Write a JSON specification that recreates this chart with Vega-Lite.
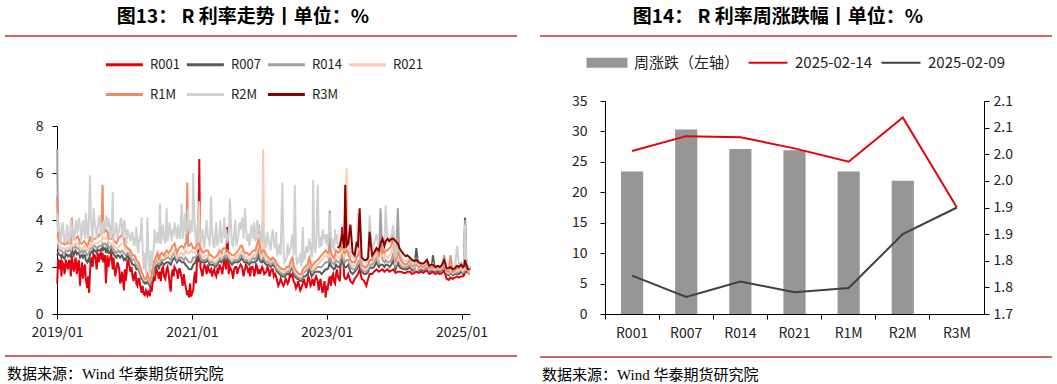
{
"$schema": "https://vega.github.io/schema/vega-lite/v6.json",
"background": "white",
"padding": {"top": 8, "left": 5, "right": 5, "bottom": 0},
"config": {
  "view": {"stroke": null},
  "font": "Noto Sans CJK SC",
  "axis": {"domainColor": "#000", "tickColor": "#000", "labelColor": "#222", "labelFontSize": 14, "grid": false, "tickSize": 5, "domainWidth": 1, "labelFont": "Noto Sans CJK SC"},
  "legend": {"layout": {"top": {"anchor": "middle"}}, "labelFont": "Noto Sans CJK SC", "labelColor": "#222"},
  "title": {"color": "#000"}
},
"hconcat": [
 {
  "spacing": 11,
  "resolve": {"scale": {"color": "independent"}, "legend": {"color": "independent"}},
  "vconcat": [
   {
    "width": 512, "height": 2,
    "view": {"fill": "#cc6666", "stroke": null},
    "title": {"text": "图13：  R 利率走势丨单位：%", "fontSize": 19, "fontWeight": "bold", "anchor": "middle", "dx": -18, "offset": 3},
    "data": {"values": [{"t": ""}]},
    "mark": "text",
    "encoding": {"text": {"field": "t"}}
   },
   {
    "spacing": 0,
    "resolve": {"scale": {"color": "independent"}, "legend": {"color": "independent"}},
    "hconcat": [
     {
      "width": 1, "height": 1,
      "data": {"values": [{"t": ""}]},
      "mark": "text",
      "encoding": {"text": {"field": "t"}}
     },
     {
    "width": 413, "height": 188,
    "data": {"values": [
{"d":"2019-01-02","R001":1.30,"R007":2.50,"R014":7.00,"R021":3.40,"R1M":5.00,"R2M":4.30},
{"d":"2019-01-07","R001":2.35,"R007":2.60,"R014":2.80,"R021":3.00,"R1M":3.30,"R2M":3.50},
{"d":"2019-01-16","R001":2.20,"R007":2.50,"R014":2.70,"R021":2.90,"R1M":3.10,"R2M":3.40},
{"d":"2019-01-25","R001":1.60,"R007":2.40,"R014":2.70,"R021":2.80,"R1M":3.00,"R2M":3.30},
{"d":"2019-02-05","R001":2.10,"R007":2.40,"R014":2.60,"R021":2.80,"R1M":3.00,"R2M":3.60},
{"d":"2019-02-18","R001":2.30,"R007":2.55,"R014":2.70,"R021":2.80,"R1M":3.00,"R2M":3.20},
{"d":"2019-03-01","R001":1.90,"R007":2.45,"R014":2.65,"R021":2.80,"R1M":3.10,"R2M":3.50},
{"d":"2019-03-12","R001":2.20,"R007":2.50,"R014":2.75,"R021":2.85,"R1M":3.00,"R2M":3.20},
{"d":"2019-03-22","R001":2.50,"R007":2.80,"R014":3.00,"R021":3.20,"R1M":4.10,"R2M":3.70},
{"d":"2019-04-02","R001":1.80,"R007":2.50,"R014":2.80,"R021":2.90,"R1M":3.20,"R2M":3.60},
{"d":"2019-04-12","R001":2.40,"R007":2.70,"R014":2.90,"R021":3.00,"R1M":3.20,"R2M":4.00},
{"d":"2019-04-24","R001":2.10,"R007":2.60,"R014":2.80,"R021":3.00,"R1M":3.30,"R2M":3.60},
{"d":"2019-05-06","R001":1.20,"R007":2.40,"R014":2.60,"R021":2.80,"R1M":3.00,"R2M":3.80},
{"d":"2019-05-16","R001":2.20,"R007":2.50,"R014":2.70,"R021":2.80,"R1M":3.00,"R2M":3.40},
{"d":"2019-05-28","R001":2.00,"R007":2.50,"R014":2.70,"R021":2.90,"R1M":3.10,"R2M":3.60},
{"d":"2019-06-06","R001":1.50,"R007":2.30,"R014":2.60,"R021":2.80,"R1M":3.00,"R2M":4.30},
{"d":"2019-06-14","R001":1.10,"R007":2.20,"R014":2.50,"R021":2.70,"R1M":2.90,"R2M":3.50},
{"d":"2019-06-24","R001":0.90,"R007":2.20,"R014":2.60,"R021":2.80,"R1M":3.10,"R2M":4.40},
{"d":"2019-06-29","R001":1.80,"R007":2.60,"R014":2.80,"R021":3.00,"R1M":3.30,"R2M":5.90},
{"d":"2019-07-08","R001":2.40,"R007":2.65,"R014":2.80,"R021":2.90,"R1M":3.10,"R2M":3.60},
{"d":"2019-07-18","R001":2.55,"R007":2.75,"R014":2.90,"R021":3.00,"R1M":3.20,"R2M":4.50},
{"d":"2019-07-30","R001":2.30,"R007":2.65,"R014":2.85,"R021":3.00,"R1M":3.20,"R2M":3.60},
{"d":"2019-08-09","R001":2.60,"R007":2.75,"R014":2.85,"R021":3.00,"R1M":3.30,"R2M":3.70},
{"d":"2019-08-20","R001":2.50,"R007":2.70,"R014":2.90,"R021":3.10,"R1M":3.40,"R2M":4.20},
{"d":"2019-08-30","R001":2.30,"R007":2.70,"R014":2.90,"R021":3.10,"R1M":3.50,"R2M":3.90},
{"d":"2019-09-05","R001":2.60,"R007":2.85,"R014":3.00,"R021":3.30,"R1M":5.50,"R2M":3.80},
{"d":"2019-09-12","R001":2.40,"R007":2.80,"R014":3.00,"R021":3.20,"R1M":3.50,"R2M":4.00},
{"d":"2019-09-23","R001":1.30,"R007":2.60,"R014":2.90,"R021":3.20,"R1M":3.60,"R2M":4.20},
{"d":"2019-10-01","R001":2.50,"R007":2.80,"R014":3.00,"R021":3.30,"R1M":3.50,"R2M":3.70},
{"d":"2019-10-12","R001":2.30,"R007":2.60,"R014":2.80,"R021":3.00,"R1M":3.20,"R2M":3.80},
{"d":"2019-10-22","R001":2.60,"R007":2.75,"R014":2.90,"R021":3.00,"R1M":3.20,"R2M":3.60},
{"d":"2019-10-30","R001":1.90,"R007":2.60,"R014":2.80,"R021":3.00,"R1M":3.30,"R2M":5.20},
{"d":"2019-11-08","R001":2.00,"R007":2.50,"R014":2.70,"R021":2.90,"R1M":3.10,"R2M":3.40},
{"d":"2019-11-19","R001":1.90,"R007":2.40,"R014":2.60,"R021":2.80,"R1M":3.00,"R2M":3.90},
{"d":"2019-11-29","R001":2.10,"R007":2.50,"R014":2.70,"R021":2.85,"R1M":3.20,"R2M":3.50},
{"d":"2019-12-09","R001":1.30,"R007":2.40,"R014":2.60,"R021":2.90,"R1M":3.30,"R2M":3.90},
{"d":"2019-12-19","R001":1.80,"R007":2.50,"R014":2.70,"R021":3.00,"R1M":3.40,"R2M":3.70},
{"d":"2019-12-30","R001":1.00,"R007":2.30,"R014":2.60,"R021":3.00,"R1M":3.20,"R2M":4.00},
{"d":"2020-01-08","R001":1.40,"R007":2.30,"R014":2.50,"R021":2.70,"R1M":2.90,"R2M":3.30},
{"d":"2020-01-17","R001":2.20,"R007":2.50,"R014":2.60,"R021":2.70,"R1M":2.80,"R2M":3.60},
{"d":"2020-02-03","R001":1.80,"R007":2.30,"R014":2.50,"R021":2.60,"R1M":2.70,"R2M":3.10},
{"d":"2020-02-14","R001":1.60,"R007":2.10,"R014":2.30,"R021":2.40,"R1M":2.50,"R2M":3.50},
{"d":"2020-02-25","R001":1.70,"R007":2.10,"R014":2.30,"R021":2.40,"R1M":2.50,"R2M":2.90},
{"d":"2020-03-06","R001":1.30,"R007":1.90,"R014":2.10,"R021":2.20,"R1M":2.30,"R2M":3.70},
{"d":"2020-03-17","R001":1.50,"R007":1.90,"R014":2.00,"R021":2.10,"R1M":2.20,"R2M":2.60},
{"d":"2020-03-27","R001":1.20,"R007":1.70,"R014":1.80,"R021":1.90,"R1M":2.00,"R2M":3.10},
{"d":"2020-04-04","R001":0.90,"R007":1.50,"R014":1.60,"R021":1.70,"R1M":1.80,"R2M":4.10},
{"d":"2020-04-15","R001":0.85,"R007":1.35,"R014":1.45,"R021":1.50,"R1M":1.55,"R2M":1.90},
{"d":"2020-04-27","R001":1.00,"R007":1.30,"R014":1.40,"R021":1.45,"R1M":1.50,"R2M":1.70},
{"d":"2020-05-05","R001":0.80,"R007":1.40,"R014":1.50,"R021":1.60,"R1M":1.70,"R2M":4.10},
{"d":"2020-05-18","R001":0.75,"R007":1.20,"R014":1.30,"R021":1.40,"R1M":1.45,"R2M":1.60},
{"d":"2020-05-28","R001":0.95,"R007":1.40,"R014":1.50,"R021":1.60,"R1M":1.70,"R2M":2.00},
{"d":"2020-06-08","R001":1.50,"R007":1.80,"R014":2.00,"R021":2.10,"R1M":2.20,"R2M":2.80},
{"d":"2020-06-18","R001":1.70,"R007":2.00,"R014":2.20,"R021":2.30,"R1M":2.40,"R2M":3.00},
{"d":"2020-06-29","R001":1.80,"R007":2.10,"R014":2.30,"R021":2.40,"R1M":2.60,"R2M":3.50},
{"d":"2020-07-06","R001":1.50,"R007":1.90,"R014":2.10,"R021":2.20,"R1M":2.30,"R2M":3.00},
{"d":"2020-07-12","R001":1.80,"R007":2.10,"R014":2.30,"R021":2.40,"R1M":2.50,"R2M":4.70},
{"d":"2020-07-22","R001":1.90,"R007":2.20,"R014":2.30,"R021":2.40,"R1M":2.60,"R2M":3.30},
{"d":"2020-08-03","R001":1.60,"R007":2.10,"R014":2.30,"R021":2.40,"R1M":2.50,"R2M":3.20},
{"d":"2020-08-17","R001":1.90,"R007":2.20,"R014":2.40,"R021":2.50,"R1M":2.70,"R2M":4.50},
{"d":"2020-08-28","R001":1.70,"R007":2.20,"R014":2.40,"R021":2.50,"R1M":2.60,"R2M":3.40},
{"d":"2020-09-08","R001":0.95,"R007":2.10,"R014":2.30,"R021":2.50,"R1M":2.70,"R2M":3.50},
{"d":"2020-09-18","R001":1.90,"R007":2.30,"R014":2.50,"R021":2.60,"R1M":2.90,"R2M":3.60},
{"d":"2020-09-29","R001":2.00,"R007":2.40,"R014":2.60,"R021":2.70,"R1M":3.00,"R2M":3.90},
{"d":"2020-10-12","R001":1.80,"R007":2.20,"R014":2.30,"R021":2.40,"R1M":2.60,"R2M":3.20},
{"d":"2020-10-23","R001":1.90,"R007":2.30,"R014":2.40,"R021":2.50,"R1M":2.80,"R2M":3.40},
{"d":"2020-11-07","R001":1.50,"R007":2.20,"R014":2.40,"R021":2.60,"R1M":2.90,"R2M":4.70},
{"d":"2020-11-18","R001":1.70,"R007":2.20,"R014":2.30,"R021":2.50,"R1M":2.80,"R2M":3.50},
{"d":"2020-11-27","R001":1.20,"R007":2.10,"R014":2.40,"R021":2.70,"R1M":3.00,"R2M":3.80},
{"d":"2020-12-07","R001":0.80,"R007":2.00,"R014":2.30,"R021":2.60,"R1M":5.60,"R2M":3.90},
{"d":"2020-12-17","R001":0.70,"R007":1.90,"R014":2.20,"R021":2.60,"R1M":2.90,"R2M":3.60},
{"d":"2020-12-28","R001":0.75,"R007":1.90,"R014":2.20,"R021":2.70,"R1M":3.00,"R2M":4.00},
{"d":"2021-01-08","R001":1.00,"R007":2.10,"R014":2.40,"R021":2.60,"R1M":2.80,"R2M":6.00},
{"d":"2021-01-19","R001":1.80,"R007":2.20,"R014":2.40,"R021":2.60,"R1M":2.80,"R2M":3.40},
{"d":"2021-01-29","R001":2.40,"R007":2.40,"R014":2.50,"R021":2.80,"R1M":3.00,"R2M":3.60},
{"d":"2021-02-10","R001":6.60,"R007":2.50,"R014":2.60,"R021":4.80,"R1M":3.00,"R2M":3.40},
{"d":"2021-02-22","R001":1.80,"R007":2.20,"R014":2.30,"R021":2.50,"R1M":2.70,"R2M":3.30},
{"d":"2021-03-04","R001":1.90,"R007":2.20,"R014":2.30,"R021":2.40,"R1M":2.60,"R2M":3.10},
{"d":"2021-03-16","R001":2.00,"R007":2.20,"R014":2.30,"R021":2.50,"R1M":2.70,"R2M":3.50},
{"d":"2021-03-29","R001":2.10,"R007":2.30,"R014":2.40,"R021":2.50,"R1M":2.70,"R2M":3.20},
{"d":"2021-04-08","R001":1.80,"R007":2.10,"R014":2.20,"R021":2.30,"R1M":2.50,"R2M":2.90},
{"d":"2021-04-15","R001":1.90,"R007":2.10,"R014":2.20,"R021":2.30,"R1M":2.50,"R2M":5.00},
{"d":"2021-04-26","R001":1.80,"R007":2.10,"R014":2.20,"R021":2.30,"R1M":2.40,"R2M":3.00},
{"d":"2021-05-07","R001":1.70,"R007":2.00,"R014":2.10,"R021":2.20,"R1M":2.40,"R2M":3.30},
{"d":"2021-05-19","R001":1.90,"R007":2.10,"R014":2.20,"R021":2.30,"R1M":2.50,"R2M":2.90},
{"d":"2021-05-31","R001":2.10,"R007":2.30,"R014":2.40,"R021":2.50,"R1M":2.70,"R2M":3.50},
{"d":"2021-06-10","R001":1.90,"R007":2.20,"R014":2.30,"R021":2.40,"R1M":2.60,"R2M":3.00},
{"d":"2021-06-21","R001":2.10,"R007":2.30,"R014":2.40,"R021":2.60,"R1M":2.80,"R2M":3.60},
{"d":"2021-06-30","R001":2.20,"R007":2.40,"R014":2.50,"R021":2.60,"R1M":2.80,"R2M":3.20},
{"d":"2021-07-12","R001":3.70,"R007":2.40,"R014":2.50,"R021":2.60,"R1M":2.70,"R2M":3.10},
{"d":"2021-07-26","R001":2.00,"R007":2.20,"R014":2.30,"R021":2.40,"R1M":2.60,"R2M":4.90},
{"d":"2021-08-06","R001":1.80,"R007":2.10,"R014":2.20,"R021":2.30,"R1M":2.50,"R2M":3.00},
{"d":"2021-08-18","R001":1.90,"R007":2.20,"R014":2.30,"R021":2.40,"R1M":2.50,"R2M":3.40},
{"d":"2021-08-30","R001":2.00,"R007":2.20,"R014":2.30,"R021":2.40,"R1M":2.60,"R2M":2.90},
{"d":"2021-09-09","R001":1.90,"R007":2.20,"R014":2.30,"R021":2.50,"R1M":2.70,"R2M":3.30},
{"d":"2021-09-22","R001":2.10,"R007":2.30,"R014":2.50,"R021":2.60,"R1M":2.90,"R2M":3.60},
{"d":"2021-09-30","R001":2.00,"R007":2.40,"R014":2.50,"R021":2.70,"R1M":2.90,"R2M":4.10},
{"d":"2021-10-15","R001":1.90,"R007":2.20,"R014":2.30,"R021":2.40,"R1M":2.60,"R2M":4.50},
{"d":"2021-10-27","R001":2.00,"R007":2.20,"R014":2.30,"R021":2.40,"R1M":2.60,"R2M":3.10},
{"d":"2021-11-08","R001":1.90,"R007":2.10,"R014":2.20,"R021":2.30,"R1M":2.50,"R2M":2.90},
{"d":"2021-11-19","R001":2.00,"R007":2.20,"R014":2.30,"R021":2.40,"R1M":2.60,"R2M":3.80},
{"d":"2021-11-30","R001":1.90,"R007":2.20,"R014":2.40,"R021":2.50,"R1M":2.70,"R2M":3.20},
{"d":"2021-12-10","R001":1.80,"R007":2.20,"R014":2.30,"R021":2.50,"R1M":2.70,"R2M":3.10},
{"d":"2021-12-21","R001":2.00,"R007":2.30,"R014":2.50,"R021":2.80,"R1M":3.00,"R2M":4.00},
{"d":"2021-12-31","R001":1.90,"R007":2.60,"R014":3.80,"R021":3.40,"R1M":3.20,"R2M":3.60},
{"d":"2022-01-12","R001":1.90,"R007":2.20,"R014":2.30,"R021":2.40,"R1M":2.60,"R2M":3.00},
{"d":"2022-01-22","R001":1.90,"R007":2.30,"R014":2.50,"R021":7.00,"R1M":2.70,"R2M":3.20},
{"d":"2022-02-08","R001":1.80,"R007":2.10,"R014":2.20,"R021":2.30,"R1M":2.50,"R2M":2.80},
{"d":"2022-02-20","R001":1.90,"R007":2.10,"R014":2.20,"R021":2.30,"R1M":2.40,"R2M":3.20},
{"d":"2022-03-04","R001":1.80,"R007":2.00,"R014":2.10,"R021":2.20,"R1M":2.30,"R2M":2.70},
{"d":"2022-03-15","R001":1.90,"R007":2.10,"R014":2.20,"R021":2.30,"R1M":2.40,"R2M":3.60},
{"d":"2022-03-28","R001":1.70,"R007":2.00,"R014":2.10,"R021":2.20,"R1M":2.30,"R2M":2.80},
{"d":"2022-04-08","R001":1.40,"R007":1.80,"R014":1.90,"R021":2.00,"R1M":2.10,"R2M":2.50},
{"d":"2022-04-20","R001":1.30,"R007":1.70,"R014":1.80,"R021":1.90,"R1M":2.00,"R2M":3.00},
{"d":"2022-05-06","R001":1.30,"R007":1.60,"R014":1.70,"R021":1.80,"R1M":1.90,"R2M":5.60},
{"d":"2022-05-18","R001":1.30,"R007":1.60,"R014":1.70,"R021":1.80,"R1M":1.90,"R2M":2.20},
{"d":"2022-05-30","R001":1.40,"R007":1.70,"R014":1.80,"R021":1.90,"R1M":2.00,"R2M":2.40},
{"d":"2022-06-10","R001":1.40,"R007":1.70,"R014":1.80,"R021":1.90,"R1M":2.00,"R2M":2.50},
{"d":"2022-06-22","R001":1.60,"R007":1.90,"R014":2.00,"R021":2.10,"R1M":2.30,"R2M":2.90},
{"d":"2022-06-30","R001":1.70,"R007":2.00,"R014":2.10,"R021":2.20,"R1M":2.40,"R2M":3.40},
{"d":"2022-07-13","R001":1.30,"R007":1.60,"R014":1.70,"R021":1.80,"R1M":1.90,"R2M":5.50},
{"d":"2022-07-25","R001":1.20,"R007":1.50,"R014":1.60,"R021":1.70,"R1M":1.80,"R2M":2.10},
{"d":"2022-08-05","R001":1.20,"R007":1.45,"R014":1.55,"R021":1.60,"R1M":1.70,"R2M":2.20},
{"d":"2022-08-17","R001":1.10,"R007":1.40,"R014":1.50,"R021":1.60,"R1M":1.70,"R2M":2.00},
{"d":"2022-08-25","R001":1.30,"R007":1.60,"R014":1.70,"R021":1.80,"R1M":1.90,"R2M":3.70},
{"d":"2022-09-06","R001":1.30,"R007":1.60,"R014":1.80,"R021":1.90,"R1M":2.00,"R2M":2.40},
{"d":"2022-09-20","R001":1.40,"R007":1.70,"R014":1.90,"R021":2.00,"R1M":2.10,"R2M":2.60},
{"d":"2022-09-29","R001":1.50,"R007":1.90,"R014":2.10,"R021":2.20,"R1M":2.40,"R2M":3.20},
{"d":"2022-10-12","R001":1.30,"R007":1.60,"R014":1.80,"R021":1.90,"R1M":2.00,"R2M":2.40},
{"d":"2022-10-20","R001":1.40,"R007":1.70,"R014":1.80,"R021":1.90,"R1M":2.10,"R2M":5.70},
{"d":"2022-10-31","R001":1.50,"R007":1.80,"R014":1.90,"R021":2.00,"R1M":2.20,"R2M":2.60},
{"d":"2022-11-14","R001":1.40,"R007":1.80,"R014":2.00,"R021":2.10,"R1M":2.30,"R2M":5.50},
{"d":"2022-11-24","R001":1.30,"R007":1.80,"R014":2.00,"R021":2.20,"R1M":2.40,"R2M":2.80},
{"d":"2022-12-05","R001":1.10,"R007":1.70,"R014":2.00,"R021":2.30,"R1M":2.50,"R2M":2.90},
{"d":"2022-12-16","R001":1.20,"R007":1.80,"R014":2.10,"R021":2.40,"R1M":2.60,"R2M":3.20},
{"d":"2022-12-27","R001":0.70,"R007":1.90,"R014":2.20,"R021":2.50,"R1M":2.70,"R2M":3.00},
{"d":"2023-01-06","R001":1.00,"R007":1.90,"R014":2.20,"R021":2.40,"R1M":2.60,"R2M":2.90},
{"d":"2023-01-18","R001":1.60,"R007":2.20,"R014":4.40,"R021":2.60,"R1M":2.80,"R2M":4.30},
{"d":"2023-01-30","R001":1.60,"R007":2.00,"R014":2.20,"R021":2.40,"R1M":2.50,"R2M":2.80},
{"d":"2023-02-10","R001":1.40,"R007":1.90,"R014":2.10,"R021":2.30,"R1M":2.40,"R2M":2.70},
{"d":"2023-02-21","R001":1.70,"R007":2.10,"R014":2.30,"R021":2.50,"R1M":2.70,"R2M":3.00},
{"d":"2023-03-03","R001":1.60,"R007":2.00,"R014":2.20,"R021":2.40,"R1M":2.60,"R2M":2.90,"R3M":2.80},
{"d":"2023-03-14","R001":1.40,"R007":2.00,"R014":2.20,"R021":2.40,"R1M":2.70,"R2M":3.00,"R3M":2.90},
{"d":"2023-03-26","R001":3.70,"R007":2.40,"R014":2.60,"R021":2.80,"R1M":3.00,"R2M":3.20,"R3M":3.40},
{"d":"2023-04-06","R001":1.60,"R007":2.00,"R014":2.20,"R021":2.40,"R1M":2.60,"R2M":2.80,"R3M":2.80},
{"d":"2023-04-12","R001":1.50,"R007":2.00,"R014":2.20,"R021":2.50,"R1M":2.60,"R2M":2.90,"R3M":5.50},
{"d":"2023-04-19","R001":1.50,"R007":2.00,"R014":2.30,"R021":6.20,"R1M":2.70,"R2M":3.00,"R3M":2.90},
{"d":"2023-04-28","R001":1.70,"R007":2.10,"R014":2.30,"R021":2.50,"R1M":2.60,"R2M":3.70,"R3M":3.00},
{"d":"2023-05-10","R001":1.40,"R007":1.80,"R014":2.00,"R021":2.20,"R1M":2.30,"R2M":2.50,"R3M":3.80},
{"d":"2023-05-22","R001":1.30,"R007":1.70,"R014":1.90,"R021":2.00,"R1M":2.20,"R2M":2.40,"R3M":2.60},
{"d":"2023-06-02","R001":1.50,"R007":1.80,"R014":1.90,"R021":2.10,"R1M":2.20,"R2M":2.40,"R3M":2.50},
{"d":"2023-06-12","R001":1.60,"R007":1.90,"R014":2.00,"R021":2.20,"R1M":2.40,"R2M":2.80,"R3M":3.00},
{"d":"2023-06-20","R001":1.70,"R007":2.00,"R014":2.20,"R021":4.30,"R1M":2.50,"R2M":2.90,"R3M":2.90},
{"d":"2023-06-29","R001":1.90,"R007":2.10,"R014":2.30,"R021":2.50,"R1M":2.70,"R2M":3.20,"R3M":4.50},
{"d":"2023-07-10","R001":1.50,"R007":1.80,"R014":1.90,"R021":2.00,"R1M":2.10,"R2M":2.30,"R3M":2.40},
{"d":"2023-07-24","R001":1.40,"R007":1.70,"R014":1.80,"R021":1.90,"R1M":2.00,"R2M":2.20,"R3M":2.30},
{"d":"2023-08-04","R001":1.20,"R007":1.70,"R014":1.80,"R021":1.90,"R1M":2.00,"R2M":2.20,"R3M":2.30},
{"d":"2023-08-14","R001":1.50,"R007":1.80,"R014":1.90,"R021":2.00,"R1M":2.10,"R2M":2.40,"R3M":2.40},
{"d":"2023-08-22","R001":1.70,"R007":2.00,"R014":2.10,"R021":2.20,"R1M":2.30,"R2M":4.20,"R3M":3.50},
{"d":"2023-09-04","R001":1.70,"R007":1.95,"R014":2.10,"R021":2.20,"R1M":2.30,"R2M":2.60,"R3M":2.50},
{"d":"2023-09-15","R001":1.80,"R007":2.00,"R014":2.20,"R021":2.40,"R1M":2.60,"R2M":3.00,"R3M":2.60},
{"d":"2023-09-28","R001":1.90,"R007":2.20,"R014":2.40,"R021":2.60,"R1M":2.80,"R2M":3.40,"R3M":2.80},
{"d":"2023-10-11","R001":1.80,"R007":2.00,"R014":2.10,"R021":2.30,"R1M":2.50,"R2M":2.80,"R3M":2.70},
{"d":"2023-10-20","R001":1.85,"R007":2.10,"R014":4.50,"R021":2.50,"R1M":2.70,"R2M":3.00,"R3M":3.00},
{"d":"2023-10-31","R001":1.90,"R007":2.10,"R014":2.30,"R021":2.50,"R1M":2.80,"R2M":3.10,"R3M":3.20},
{"d":"2023-11-10","R001":1.80,"R007":2.00,"R014":2.20,"R021":2.40,"R1M":2.60,"R2M":3.00,"R3M":2.90},
{"d":"2023-11-17","R001":1.85,"R007":2.10,"R014":2.30,"R021":2.50,"R1M":2.70,"R2M":4.60,"R3M":3.10},
{"d":"2023-11-27","R001":1.90,"R007":2.10,"R014":2.20,"R021":2.40,"R1M":2.70,"R2M":3.00,"R3M":3.20},
{"d":"2023-12-08","R001":1.80,"R007":2.00,"R014":2.20,"R021":2.50,"R1M":2.80,"R2M":3.20,"R3M":3.10},
{"d":"2023-12-18","R001":1.85,"R007":2.10,"R014":2.30,"R021":2.60,"R1M":2.90,"R2M":3.30,"R3M":3.20},
{"d":"2023-12-29","R001":1.90,"R007":2.30,"R014":2.60,"R021":2.90,"R1M":3.40,"R2M":3.80,"R3M":3.20},
{"d":"2024-01-10","R001":1.75,"R007":1.90,"R014":2.00,"R021":2.10,"R1M":2.20,"R2M":2.40,"R3M":3.10},
{"d":"2024-01-22","R001":1.80,"R007":2.20,"R014":4.50,"R021":2.40,"R1M":2.60,"R2M":2.90,"R3M":3.00},
{"d":"2024-01-31","R001":1.80,"R007":2.00,"R014":2.20,"R021":2.30,"R1M":2.50,"R2M":2.80,"R3M":2.80},
{"d":"2024-02-08","R001":1.80,"R007":1.95,"R014":2.05,"R021":2.15,"R1M":2.30,"R2M":2.50,"R3M":2.70},
{"d":"2024-02-22","R001":1.75,"R007":1.90,"R014":2.00,"R021":2.05,"R1M":2.15,"R2M":2.30,"R3M":2.55},
{"d":"2024-03-05","R001":1.75,"R007":1.90,"R014":2.00,"R021":2.05,"R1M":2.10,"R2M":2.25,"R3M":2.45},
{"d":"2024-03-13","R001":1.80,"R007":1.90,"R014":2.00,"R021":2.10,"R1M":2.15,"R2M":2.30,"R3M":2.50},
{"d":"2024-03-27","R001":1.80,"R007":2.00,"R014":2.10,"R021":2.20,"R1M":2.30,"R2M":2.40,"R3M":2.40},
{"d":"2024-04-08","R001":1.70,"R007":1.85,"R014":1.95,"R021":2.00,"R1M":2.05,"R2M":2.15,"R3M":2.30},
{"d":"2024-04-20","R001":1.75,"R007":1.85,"R014":1.90,"R021":2.00,"R1M":2.05,"R2M":2.15,"R3M":2.25},
{"d":"2024-05-01","R001":1.80,"R007":2.80,"R014":2.40,"R021":2.10,"R1M":2.10,"R2M":2.20,"R3M":2.30},
{"d":"2024-05-15","R001":1.75,"R007":1.85,"R014":1.90,"R021":1.95,"R1M":2.00,"R2M":2.10,"R3M":2.20},
{"d":"2024-05-28","R001":1.80,"R007":1.90,"R014":1.95,"R021":2.00,"R1M":2.05,"R2M":2.15,"R3M":2.15},
{"d":"2024-06-07","R001":1.75,"R007":1.85,"R014":1.90,"R021":1.95,"R1M":2.00,"R2M":2.10,"R3M":2.15},
{"d":"2024-06-16","R001":1.80,"R007":1.90,"R014":1.95,"R021":2.00,"R1M":2.05,"R2M":2.15,"R3M":2.20},
{"d":"2024-06-28","R001":1.85,"R007":2.00,"R014":2.05,"R021":2.10,"R1M":2.20,"R2M":2.30,"R3M":2.30},
{"d":"2024-07-10","R001":1.70,"R007":1.80,"R014":1.85,"R021":1.90,"R1M":1.95,"R2M":2.05,"R3M":2.05},
{"d":"2024-07-22","R001":1.75,"R007":1.85,"R014":1.90,"R021":1.95,"R1M":2.00,"R2M":2.05,"R3M":2.10},
{"d":"2024-07-30","R001":1.80,"R007":2.50,"R014":2.20,"R021":2.00,"R1M":2.00,"R2M":2.10,"R3M":2.10},
{"d":"2024-08-12","R001":1.70,"R007":1.80,"R014":1.85,"R021":1.90,"R1M":1.95,"R2M":2.00,"R3M":2.00},
{"d":"2024-08-26","R001":1.75,"R007":1.85,"R014":1.90,"R021":1.95,"R1M":2.00,"R2M":2.05,"R3M":2.05},
{"d":"2024-09-06","R001":1.70,"R007":1.80,"R014":1.85,"R021":1.90,"R1M":1.95,"R2M":2.00,"R3M":2.00},
{"d":"2024-09-18","R001":1.75,"R007":1.90,"R014":1.95,"R021":2.00,"R1M":2.05,"R2M":2.10,"R3M":2.10},
{"d":"2024-09-29","R001":1.85,"R007":2.10,"R014":2.20,"R021":2.30,"R1M":2.50,"R2M":2.40,"R3M":2.30},
{"d":"2024-10-12","R001":1.50,"R007":1.70,"R014":1.75,"R021":1.80,"R1M":1.85,"R2M":1.95,"R3M":1.95},
{"d":"2024-10-24","R001":1.45,"R007":1.65,"R014":1.70,"R021":1.75,"R1M":1.80,"R2M":1.90,"R3M":1.95},
{"d":"2024-11-02","R001":1.55,"R007":1.75,"R014":1.80,"R021":1.85,"R1M":2.50,"R2M":1.95,"R3M":2.00},
{"d":"2024-11-14","R001":1.50,"R007":1.65,"R014":1.70,"R021":1.75,"R1M":1.80,"R2M":1.90,"R3M":1.90},
{"d":"2024-11-26","R001":1.55,"R007":1.70,"R014":1.75,"R021":1.80,"R1M":1.85,"R2M":1.95,"R3M":1.95},
{"d":"2024-12-08","R001":1.60,"R007":1.70,"R014":1.75,"R021":1.85,"R1M":1.95,"R2M":2.90,"R3M":2.05},
{"d":"2024-12-18","R001":1.55,"R007":1.70,"R014":1.80,"R021":1.85,"R1M":1.95,"R2M":2.05,"R3M":2.00},
{"d":"2024-12-30","R001":1.60,"R007":1.80,"R014":1.90,"R021":2.00,"R1M":2.10,"R2M":2.20,"R3M":2.10},
{"d":"2025-01-08","R001":1.60,"R007":1.70,"R014":1.75,"R021":1.85,"R1M":1.95,"R2M":2.05,"R3M":2.00},
{"d":"2025-01-15","R001":1.65,"R007":1.75,"R014":1.80,"R021":1.90,"R1M":2.00,"R2M":2.10,"R3M":2.05},
{"d":"2025-01-20","R001":1.80,"R007":4.10,"R014":4.00,"R021":2.50,"R1M":2.50,"R2M":3.80,"R3M":2.30},
{"d":"2025-01-27","R001":1.80,"R007":2.00,"R014":2.10,"R021":2.20,"R1M":2.20,"R2M":2.30,"R3M":2.10},
{"d":"2025-02-05","R001":1.75,"R007":1.75,"R014":1.80,"R021":1.80,"R1M":1.80,"R2M":1.90,"R3M":1.90},
{"d":"2025-02-09","R001":1.77,"R007":1.73,"R014":1.76,"R021":1.74,"R1M":1.75,"R2M":1.85,"R3M":1.90},
{"d":"2025-02-14","R001":2.01,"R007":2.03,"R014":2.03,"R021":2.01,"R1M":1.99,"R2M":2.07,"R3M":1.90},
{"d":"2019-01-11","R001":1.9,"R007":2.55,"R014":2.75,"R021":2.95,"R1M":3.2,"R2M":3.9},
{"d":"2019-01-21","R001":2.3,"R007":2.5,"R014":2.7,"R021":2.85,"R1M":3.05,"R2M":3.0},
{"d":"2019-01-30","R001":2.2,"R007":2.5,"R014":2.65,"R021":2.8,"R1M":3.0,"R2M":3.9},
{"d":"2019-02-11","R001":1.7,"R007":2.35,"R014":2.6,"R021":2.75,"R1M":2.95,"R2M":3.0},
{"d":"2019-02-25","R001":2.0,"R007":2.5,"R014":2.7,"R021":2.8,"R1M":3.0,"R2M":3.8},
{"d":"2019-03-07","R001":2.3,"R007":2.5,"R014":2.7,"R021":2.85,"R1M":3.0,"R2M":3.0},
{"d":"2019-03-17","R001":1.6,"R007":2.4,"R014":2.65,"R021":2.8,"R1M":3.05,"R2M":4.0},
{"d":"2019-03-27","R001":2.1,"R007":2.6,"R014":2.8,"R021":2.9,"R1M":3.3,"R2M":3.2},
{"d":"2019-04-07","R001":2.2,"R007":2.65,"R014":2.85,"R021":2.95,"R1M":3.2,"R2M":3.1},
{"d":"2019-04-18","R001":1.7,"R007":2.55,"R014":2.8,"R021":2.95,"R1M":3.25,"R2M":3.4},
{"d":"2019-04-29","R001":2.3,"R007":2.6,"R014":2.8,"R021":2.95,"R1M":3.2,"R2M":4.1},
{"d":"2019-05-11","R001":1.8,"R007":2.45,"R014":2.65,"R021":2.8,"R1M":3.0,"R2M":3.1},
{"d":"2019-05-22","R001":1.5,"R007":2.4,"R014":2.6,"R021":2.8,"R1M":3.05,"R2M":4.0},
{"d":"2019-06-02","R001":2.1,"R007":2.5,"R014":2.7,"R021":2.85,"R1M":3.05,"R2M":3.2},
{"d":"2019-06-10","R001":1.3,"R007":2.25,"R014":2.55,"R021":2.75,"R1M":2.95,"R2M":3.9},
{"d":"2019-06-19","R001":1.6,"R007":2.3,"R014":2.55,"R021":2.75,"R1M":3.0,"R2M":3.2},
{"d":"2019-07-03","R001":2.3,"R007":2.6,"R014":2.8,"R021":2.95,"R1M":3.2,"R2M":4.0},
{"d":"2019-07-13","R001":2.0,"R007":2.6,"R014":2.8,"R021":2.95,"R1M":3.15,"R2M":3.1},
{"d":"2019-07-24","R001":2.5,"R007":2.7,"R014":2.9,"R021":3.0,"R1M":3.2,"R2M":3.9},
{"d":"2019-08-04","R001":1.9,"R007":2.6,"R014":2.8,"R021":3.0,"R1M":3.25,"R2M":3.2},
{"d":"2019-08-15","R001":2.2,"R007":2.7,"R014":2.85,"R021":3.05,"R1M":3.3,"R2M":4.0},
{"d":"2019-08-26","R001":2.6,"R007":2.75,"R014":2.9,"R021":3.1,"R1M":3.4,"R2M":3.3},
{"d":"2019-09-09","R001":2.2,"R007":2.75,"R014":2.95,"R021":3.2,"R1M":3.45,"R2M":3.4},
{"d":"2019-09-18","R001":2.5,"R007":2.8,"R014":3.0,"R021":3.2,"R1M":3.5,"R2M":3.6},
{"d":"2019-10-07","R001":2.0,"R007":2.6,"R014":2.85,"R021":3.1,"R1M":3.3,"R2M":4.1},
{"d":"2019-10-17","R001":2.4,"R007":2.65,"R014":2.85,"R021":3.0,"R1M":3.2,"R2M":3.2},
{"d":"2019-10-26","R001":2.2,"R007":2.65,"R014":2.85,"R021":3.0,"R1M":3.2,"R2M":4.0},
{"d":"2019-11-03","R001":2.4,"R007":2.6,"R014":2.75,"R021":2.9,"R1M":3.15,"R2M":3.1},
{"d":"2019-11-13","R001":1.6,"R007":2.45,"R014":2.65,"R021":2.85,"R1M":3.05,"R2M":3.5},
{"d":"2019-11-24","R001":2.2,"R007":2.5,"R014":2.65,"R021":2.8,"R1M":3.1,"R2M":3.2},
{"d":"2019-12-04","R001":1.9,"R007":2.45,"R014":2.65,"R021":2.9,"R1M":3.25,"R2M":3.5},
{"d":"2019-12-14","R001":1.4,"R007":2.45,"R014":2.65,"R021":2.95,"R1M":3.3,"R2M":4.1},
{"d":"2019-12-24","R001":1.5,"R007":2.4,"R014":2.65,"R021":3.0,"R1M":3.3,"R2M":3.2},
{"d":"2020-01-03","R001":1.9,"R007":2.35,"R014":2.55,"R021":2.8,"R1M":3.0,"R2M":3.9},
{"d":"2020-01-13","R001":1.7,"R007":2.4,"R014":2.55,"R021":2.7,"R1M":2.85,"R2M":3.0},
{"d":"2020-01-22","R001":2.3,"R007":2.45,"R014":2.6,"R021":2.7,"R1M":2.8,"R2M":3.5},
{"d":"2020-02-09","R001":2.0,"R007":2.2,"R014":2.4,"R021":2.5,"R1M":2.6,"R2M":3.4},
{"d":"2020-02-20","R001":1.4,"R007":2.1,"R014":2.3,"R021":2.4,"R1M":2.5,"R2M":3.0},
{"d":"2020-03-02","R001":1.8,"R007":2.0,"R014":2.2,"R021":2.3,"R1M":2.4,"R2M":3.3},
{"d":"2020-03-12","R001":1.2,"R007":1.9,"R014":2.05,"R021":2.15,"R1M":2.25,"R2M":2.8},
{"d":"2020-03-22","R001":1.5,"R007":1.8,"R014":1.9,"R021":2.0,"R1M":2.1,"R2M":3.3},
{"d":"2020-04-09","R001":1.2,"R007":1.45,"R014":1.55,"R021":1.6,"R1M":1.7,"R2M":2.8},
{"d":"2020-04-21","R001":0.8,"R007":1.3,"R014":1.4,"R021":1.45,"R1M":1.5,"R2M":2.6},
{"d":"2020-05-11","R001":1.0,"R007":1.3,"R014":1.4,"R021":1.5,"R1M":1.55,"R2M":2.4},
{"d":"2020-05-23","R001":1.2,"R007":1.3,"R014":1.4,"R021":1.5,"R1M":1.55,"R2M":2.7},
{"d":"2020-06-02","R001":1.3,"R007":1.6,"R014":1.75,"R021":1.85,"R1M":1.95,"R2M":2.5},
{"d":"2020-06-13","R001":1.4,"R007":1.9,"R014":2.1,"R021":2.2,"R1M":2.3,"R2M":3.6},
{"d":"2020-06-23","R001":1.9,"R007":2.05,"R014":2.25,"R021":2.35,"R1M":2.5,"R2M":3.1},
{"d":"2020-07-17","R001":1.4,"R007":2.1,"R014":2.3,"R021":2.4,"R1M":2.55,"R2M":3.0},
{"d":"2020-07-28","R001":2.0,"R007":2.15,"R014":2.3,"R021":2.4,"R1M":2.55,"R2M":3.8},
{"d":"2020-08-10","R001":1.5,"R007":2.15,"R014":2.35,"R021":2.45,"R1M":2.6,"R2M":3.0},
{"d":"2020-08-22","R001":2.0,"R007":2.2,"R014":2.4,"R021":2.5,"R1M":2.65,"R2M":3.1},
{"d":"2020-09-02","R001":1.3,"R007":2.15,"R014":2.35,"R021":2.5,"R1M":2.65,"R2M":3.9},
{"d":"2020-09-13","R001":1.6,"R007":2.2,"R014":2.4,"R021":2.55,"R1M":2.8,"R2M":3.1},
{"d":"2020-09-24","R001":1.6,"R007":2.35,"R014":2.55,"R021":2.65,"R1M":2.95,"R2M":3.3},
{"d":"2020-10-17","R001":1.5,"R007":2.25,"R014":2.35,"R021":2.45,"R1M":2.7,"R2M":3.8},
{"d":"2020-10-28","R001":1.9,"R007":2.3,"R014":2.4,"R021":2.55,"R1M":2.85,"R2M":3.2},
{"d":"2020-11-12","R001":1.2,"R007":2.2,"R014":2.35,"R021":2.55,"R1M":2.85,"R2M":3.2},
{"d":"2020-11-23","R001":1.4,"R007":2.15,"R014":2.35,"R021":2.6,"R1M":2.9,"R2M":4.3},
{"d":"2020-12-02","R001":1.0,"R007":2.05,"R014":2.35,"R021":2.65,"R1M":3.0,"R2M":3.4},
{"d":"2020-12-12","R001":1.0,"R007":1.95,"R014":2.25,"R021":2.6,"R1M":2.9,"R2M":4.5},
{"d":"2020-12-22","R001":1.3,"R007":1.9,"R014":2.2,"R021":2.65,"R1M":2.95,"R2M":3.4},
{"d":"2021-01-03","R001":0.9,"R007":2.0,"R014":2.3,"R021":2.65,"R1M":2.9,"R2M":3.5},
{"d":"2021-01-14","R001":1.6,"R007":2.15,"R014":2.4,"R021":2.6,"R1M":2.8,"R2M":4.2},
{"d":"2021-01-24","R001":1.3,"R007":2.3,"R014":2.45,"R021":2.7,"R1M":2.9,"R2M":3.0},
{"d":"2021-02-04","R001":2.2,"R007":2.45,"R014":2.55,"R021":2.8,"R1M":3.0,"R2M":4.0},
{"d":"2021-02-16","R001":2.0,"R007":2.3,"R014":2.4,"R021":2.6,"R1M":2.8,"R2M":3.0},
{"d":"2021-02-27","R001":1.6,"R007":2.2,"R014":2.3,"R021":2.45,"R1M":2.65,"R2M":3.6},
{"d":"2021-03-10","R001":2.1,"R007":2.2,"R014":2.3,"R021":2.45,"R1M":2.65,"R2M":2.8},
{"d":"2021-03-22","R001":1.7,"R007":2.25,"R014":2.35,"R021":2.5,"R1M":2.7,"R2M":4.0},
{"d":"2021-04-02","R001":1.9,"R007":2.2,"R014":2.3,"R021":2.4,"R1M":2.6,"R2M":3.3},
{"d":"2021-04-20","R001":1.6,"R007":2.1,"R014":2.2,"R021":2.3,"R1M":2.45,"R2M":3.6},
{"d":"2021-05-02","R001":1.9,"R007":2.05,"R014":2.15,"R021":2.25,"R1M":2.4,"R2M":2.8},
{"d":"2021-05-13","R001":1.6,"R007":2.05,"R014":2.15,"R021":2.25,"R1M":2.45,"R2M":3.9},
{"d":"2021-05-25","R001":1.8,"R007":2.2,"R014":2.3,"R021":2.4,"R1M":2.6,"R2M":3.1},
{"d":"2021-06-04","R001":2.0,"R007":2.25,"R014":2.35,"R021":2.45,"R1M":2.65,"R2M":4.0},
{"d":"2021-06-15","R001":1.7,"R007":2.25,"R014":2.35,"R021":2.5,"R1M":2.7,"R2M":3.2},
{"d":"2021-06-26","R001":2.3,"R007":2.35,"R014":2.45,"R021":2.6,"R1M":2.8,"R2M":4.1},
{"d":"2021-07-05","R001":1.9,"R007":2.3,"R014":2.4,"R021":2.55,"R1M":2.7,"R2M":3.6},
{"d":"2021-07-19","R001":1.7,"R007":2.3,"R014":2.4,"R021":2.5,"R1M":2.65,"R2M":3.2},
{"d":"2021-08-01","R001":1.9,"R007":2.15,"R014":2.25,"R021":2.35,"R1M":2.55,"R2M":3.7},
{"d":"2021-08-12","R001":1.5,"R007":2.15,"R014":2.25,"R021":2.35,"R1M":2.5,"R2M":2.9},
{"d":"2021-08-24","R001":2.0,"R007":2.2,"R014":2.3,"R021":2.4,"R1M":2.55,"R2M":4.0},
{"d":"2021-09-04","R001":1.7,"R007":2.2,"R014":2.3,"R021":2.45,"R1M":2.65,"R2M":3.1},
{"d":"2021-09-16","R001":2.0,"R007":2.25,"R014":2.4,"R021":2.55,"R1M":2.8,"R2M":3.9},
{"d":"2021-10-08","R001":1.6,"R007":2.25,"R014":2.35,"R021":2.5,"R1M":2.7,"R2M":3.2},
{"d":"2021-10-21","R001":2.1,"R007":2.2,"R014":2.3,"R021":2.4,"R1M":2.6,"R2M":3.7},
{"d":"2021-11-02","R001":1.8,"R007":2.15,"R014":2.25,"R021":2.35,"R1M":2.55,"R2M":3.4},
{"d":"2021-11-13","R001":1.6,"R007":2.15,"R014":2.25,"R021":2.35,"R1M":2.55,"R2M":3.1},
{"d":"2021-11-24","R001":2.0,"R007":2.2,"R014":2.35,"R021":2.45,"R1M":2.65,"R2M":3.6},
{"d":"2021-12-05","R001":1.6,"R007":2.2,"R014":2.35,"R021":2.5,"R1M":2.7,"R2M":3.9},
{"d":"2021-12-15","R001":2.1,"R007":2.25,"R014":2.4,"R021":2.6,"R1M":2.8,"R2M":3.2},
{"d":"2021-12-26","R001":1.7,"R007":2.4,"R014":2.7,"R021":3.0,"R1M":3.1,"R2M":3.8},
{"d":"2022-01-06","R001":1.7,"R007":2.25,"R014":2.4,"R021":2.6,"R1M":2.8,"R2M":3.4},
{"d":"2022-01-17","R001":2.0,"R007":2.2,"R014":2.35,"R021":2.45,"R1M":2.65,"R2M":3.9},
{"d":"2022-01-28","R001":1.7,"R007":2.2,"R014":2.35,"R021":2.5,"R1M":2.7,"R2M":3.4},
{"d":"2022-02-14","R001":2.0,"R007":2.1,"R014":2.2,"R021":2.3,"R1M":2.45,"R2M":3.5},
{"d":"2022-02-26","R001":1.6,"R007":2.05,"R014":2.15,"R021":2.25,"R1M":2.35,"R2M":2.9},
{"d":"2022-03-09","R001":1.9,"R007":2.05,"R014":2.15,"R021":2.25,"R1M":2.35,"R2M":3.3},
{"d":"2022-03-21","R001":1.6,"R007":2.05,"R014":2.15,"R021":2.25,"R1M":2.35,"R2M":3.0},
{"d":"2022-04-02","R001":1.6,"R007":1.9,"R014":2.0,"R021":2.1,"R1M":2.2,"R2M":3.5},
{"d":"2022-04-14","R001":1.2,"R007":1.75,"R014":1.85,"R021":1.95,"R1M":2.05,"R2M":2.6},
{"d":"2022-04-27","R001":1.5,"R007":1.65,"R014":1.75,"R021":1.85,"R1M":1.95,"R2M":2.5},
{"d":"2022-05-12","R001":1.2,"R007":1.6,"R014":1.7,"R021":1.8,"R1M":1.9,"R2M":2.9},
{"d":"2022-05-24","R001":1.5,"R007":1.65,"R014":1.75,"R021":1.85,"R1M":1.95,"R2M":2.3},
{"d":"2022-06-04","R001":1.3,"R007":1.7,"R014":1.8,"R021":1.9,"R1M":2.0,"R2M":3.0},
{"d":"2022-06-16","R001":1.7,"R007":1.8,"R014":1.9,"R021":2.0,"R1M":2.15,"R2M":2.7},
{"d":"2022-07-06","R001":1.4,"R007":1.75,"R014":1.85,"R021":1.95,"R1M":2.1,"R2M":2.5},
{"d":"2022-07-19","R001":1.1,"R007":1.55,"R014":1.65,"R021":1.75,"R1M":1.85,"R2M":2.6},
{"d":"2022-07-31","R001":1.4,"R007":1.5,"R014":1.6,"R021":1.65,"R1M":1.75,"R2M":2.3},
{"d":"2022-08-11","R001":1.0,"R007":1.4,"R014":1.5,"R021":1.6,"R1M":1.7,"R2M":2.6},
{"d":"2022-08-30","R001":1.5,"R007":1.6,"R014":1.75,"R021":1.85,"R1M":1.95,"R2M":2.3},
{"d":"2022-09-13","R001":1.1,"R007":1.65,"R014":1.85,"R021":1.95,"R1M":2.05,"R2M":2.9},
{"d":"2022-09-24","R001":1.6,"R007":1.8,"R014":2.0,"R021":2.1,"R1M":2.25,"R2M":2.7},
{"d":"2022-10-06","R001":1.2,"R007":1.75,"R014":1.95,"R021":2.05,"R1M":2.2,"R2M":2.9},
{"d":"2022-10-16","R001":1.5,"R007":1.65,"R014":1.8,"R021":1.9,"R1M":2.05,"R2M":2.5},
{"d":"2022-10-25","R001":1.2,"R007":1.75,"R014":1.85,"R021":1.95,"R1M":2.15,"R2M":3.2},
{"d":"2022-11-05","R001":1.6,"R007":1.8,"R014":1.95,"R021":2.05,"R1M":2.25,"R2M":2.9},
{"d":"2022-11-19","R001":1.0,"R007":1.8,"R014":2.0,"R021":2.15,"R1M":2.35,"R2M":3.4},
{"d":"2022-11-29","R001":1.5,"R007":1.75,"R014":2.0,"R021":2.25,"R1M":2.45,"R2M":3.3},
{"d":"2022-12-10","R001":0.9,"R007":1.75,"R014":2.05,"R021":2.35,"R1M":2.55,"R2M":3.6},
{"d":"2022-12-21","R001":1.4,"R007":1.85,"R014":2.15,"R021":2.45,"R1M":2.65,"R2M":3.4},
{"d":"2023-01-01","R001":1.2,"R007":1.9,"R014":2.2,"R021":2.45,"R1M":2.65,"R2M":3.4},
{"d":"2023-01-12","R001":1.4,"R007":2.0,"R014":2.2,"R021":2.45,"R1M":2.65,"R2M":3.3},
{"d":"2023-01-24","R001":1.2,"R007":2.05,"R014":2.25,"R021":2.45,"R1M":2.6,"R2M":3.4},
{"d":"2023-02-05","R001":1.7,"R007":1.95,"R014":2.15,"R021":2.35,"R1M":2.45,"R2M":3.2},
{"d":"2023-02-16","R001":1.3,"R007":1.95,"R014":2.2,"R021":2.4,"R1M":2.55,"R2M":3.6},
{"d":"2023-02-26","R001":1.9,"R007":2.05,"R014":2.25,"R021":2.45,"R1M":2.65,"R2M":3.4}
    ]},
    "transform": [{"fold": ["R001","R007","R014","R021","R1M","R2M","R3M"], "as": ["s","v"]}],
    "mark": {"type": "line", "strokeWidth": 2},
    "encoding": {
      "x": {"field": "d", "type": "temporal", "title": null,
            "scale": {"domain": [{"year": 2019, "month": 1, "date": 1}, {"year": 2025, "month": 2, "date": 16}]},
            "axis": {"values": [{"year": 2019, "month": 1, "date": 1}, {"year": 2021, "month": 1, "date": 1}, {"year": 2023, "month": 1, "date": 1}, {"year": 2025, "month": 1, "date": 1}], "format": "%Y/%m", "labelPadding": 6, "labelFlush": false}},
      "y": {"field": "v", "type": "quantitative", "title": null,
            "scale": {"domain": [0, 8]},
            "axis": {"values": [0, 2, 4, 6, 8], "labelPadding": 9, "minExtent": 51}},
      "color": {"field": "s", "type": "nominal", "title": null,
            "scale": {"domain": ["R001","R007","R014","R021","R1M","R2M","R3M"], "range": ["#e3000f","#595959","#a0a0a0","#f9cbb1","#f08a62","#d0d0d0","#8a0000"]},
            "legend": {"orient": "top", "title": null, "columns": 4, "symbolType": "M-1,0H7", "symbolSize": 85.5, "symbolStrokeWidth": 3, "labelFontSize": 13, "labelOffset": 33, "columnPadding": 0, "rowPadding": 16, "offset": 18, "padding": 6}}
    }
     }
    ]
   },
   {
    "width": 512, "height": 2,
    "view": {"fill": "#cc6666", "stroke": null},
    "title": {"text": "数据来源：Wind 华泰期货研究院", "orient": "bottom", "anchor": "start", "fontSize": 15, "fontWeight": "normal", "font": "Liberation Serif, Noto Sans CJK SC", "offset": 6, "dx": 2},
    "data": {"values": [{"t": ""}]},
    "mark": "text",
    "encoding": {"text": {"field": "t"}}
   }
  ]
 },
 {
  "spacing": 11,
  "resolve": {"scale": {"color": "independent"}, "legend": {"color": "independent"}},
  "vconcat": [
   {
    "width": 512, "height": 2,
    "view": {"fill": "#cc6666", "stroke": null},
    "title": {"text": "图14：  R 利率周涨跌幅丨单位：%", "fontSize": 19, "fontWeight": "bold", "anchor": "middle", "dx": -18, "offset": 3},
    "data": {"values": [{"t": ""}]},
    "mark": "text",
    "encoding": {"text": {"field": "t"}}
   },
   {
    "spacing": 0,
    "resolve": {"scale": {"color": "independent"}, "legend": {"color": "independent"}},
    "hconcat": [
     {
      "width": 1, "height": 1,
      "data": {"values": [{"t": ""}]},
      "mark": "text",
      "encoding": {"text": {"field": "t"}}
     },
     {
    "width": 379, "height": 213,
    "data": {"values": [
      {"k": "R001", "chg": 23.4, "2025-02-14": 2.006, "2025-02-09": 1.772},
      {"k": "R007", "chg": 30.3, "2025-02-14": 2.034, "2025-02-09": 1.732},
      {"k": "R014", "chg": 27.1, "2025-02-14": 2.032, "2025-02-09": 1.761},
      {"k": "R021", "chg": 26.9, "2025-02-14": 2.011, "2025-02-09": 1.741},
      {"k": "R1M", "chg": 23.4, "2025-02-14": 1.986, "2025-02-09": 1.749},
      {"k": "R2M", "chg": 21.9, "2025-02-14": 2.069, "2025-02-09": 1.850},
      {"k": "R3M", "chg": 0, "2025-02-14": 1.900, "2025-02-09": 1.900}
    ]},
    "encoding": {
      "x": {"field": "k", "type": "nominal", "title": null, "sort": null,
            "scale": {"paddingInner": 0, "paddingOuter": 0},
            "axis": {"labelAngle": 0, "bandPosition": 0, "ticks": true, "labelPadding": 7}}
    },
    "layer": [
      {
        "mark": {"type": "bar", "width": {"band": 0.41}},
        "encoding": {
          "y": {"field": "chg", "type": "quantitative", "title": null,
                "scale": {"domain": [0, 35]},
                "axis": {"values": [0,5,10,15,20,25,30,35], "labelPadding": 13, "minExtent": 64}},
          "color": {"datum": "周涨跌（左轴）", "type": "nominal", "title": null,
                "scale": {"domain": ["周涨跌（左轴）","2025-02-14","2025-02-09"], "range": ["#969696","#e3000f","#404040"]},
                "legend": {"orient": "top", "title": null, "direction": "horizontal", "labelFontSize": 15, "labelOffset": 35, "columnPadding": 4, "offset": 27, "padding": 3, "symbolSize": 64,
                  "encode": {"symbols": {"update": {
                    "shape": {"signal": "datum.value === '周涨跌（左轴）' ? 'M-1,-1H8.75V1H-1Z' : 'M-1,0H8.75'"},
                    "fill": {"signal": "datum.value === '周涨跌（左轴）' ? '#969696' : 'transparent'"},
                    "stroke": {"signal": "datum.value === '2025-02-14' ? '#e3000f' : (datum.value === '2025-02-09' ? '#404040' : 'transparent')"},
                    "strokeWidth": {"value": 2},
                    "size": {"value": 64}}}}}}
        }
      },
      {
        "transform": [{"fold": ["2025-02-14", "2025-02-09"], "as": ["s", "v"]}],
        "mark": {"type": "line", "strokeWidth": 2},
        "encoding": {
          "y": {"field": "v", "type": "quantitative", "title": null,
                "scale": {"domain": [1.7, 2.1]},
                "axis": {"orient": "right", "values": [1.7,1.75,1.8,1.85,1.9,1.95,2.0,2.05,2.1], "labelExpr": "format(datum.value + 0.0001, '.1f')", "labelPadding": 4}},
          "color": {"field": "s", "type": "nominal", "title": null}
        }
      }
    ],
    "resolve": {"scale": {"y": "independent"}}
     }
    ]
   },
   {
    "width": 512, "height": 2,
    "view": {"fill": "#cc6666", "stroke": null},
    "title": {"text": "数据来源：Wind 华泰期货研究院", "orient": "bottom", "anchor": "start", "fontSize": 15, "fontWeight": "normal", "font": "Liberation Serif, Noto Sans CJK SC", "offset": 6, "dx": 2},
    "data": {"values": [{"t": ""}]},
    "mark": "text",
    "encoding": {"text": {"field": "t"}}
   }
  ]
 }
],
"spacing": 23,
"resolve": {"scale": {"color": "independent"}, "legend": {"color": "independent"}}
}
